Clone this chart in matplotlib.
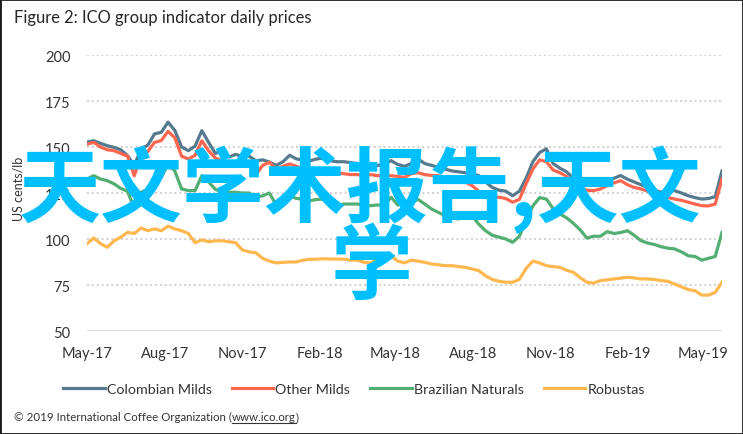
import matplotlib
matplotlib.use('Agg')
import matplotlib.pyplot as plt
import pandas as pd
from matplotlib.patches import Rectangle
from matplotlib.lines import Line2D

# ---------------- data ----------------
dates = pd.date_range('2017-05-01', periods=95, freq='8D')

colombian_milds = [152.7, 153.4, 152.0, 150.7, 149.8, 148.5, 145.3, 140.0, 148.9, 151.0,
                   157.1, 158.0, 163.5, 159.0, 150.0, 148.0, 150.5, 158.9, 152.5, 146.5,
                   148.0, 144.5, 146.0, 144.8, 145.0, 142.5, 143.0, 141.8, 140.0, 142.0,
                   145.5, 143.5, 143.0, 142.5, 143.5, 144.0, 142.5, 142.0, 142.0, 141.5,
                   141.0, 140.5, 141.0, 140.0, 140.5, 142.6, 140.5, 139.5, 141.0, 143.5,
                   141.0, 140.0, 139.0, 138.0, 137.0, 136.5, 136.0, 135.0, 134.5, 131.0,
                   128.0, 126.5, 126.0, 123.5, 126.0, 133.0, 142.0, 147.0, 149.0, 141.0,
                   138.5, 136.5, 133.0, 131.0, 129.5, 130.0, 131.0, 132.0, 133.0, 134.5,
                   132.5, 131.0, 129.5, 128.0, 126.5, 125.4, 126.0, 126.3, 125.0, 123.5,
                   122.5, 121.7, 122.0, 123.0, 137.0]

other_milds = [151.5, 152.5, 150.0, 148.5, 148.0, 146.5, 145.0, 134.4, 145.3, 147.5,
               152.5, 153.5, 158.5, 155.0, 145.0, 143.5, 145.5, 153.4, 148.0, 144.0,
               142.5, 140.5, 141.7, 141.5, 140.8, 135.0, 140.0, 141.7, 138.0, 139.5,
               140.8, 139.5, 138.0, 137.1, 136.5, 136.2, 136.2, 136.0, 135.5, 135.0,
               135.0, 134.5, 135.0, 134.4, 134.5, 134.4, 134.0, 133.5, 135.5, 136.0,
               135.0, 134.5, 134.4, 133.0, 132.0, 131.5, 131.0, 129.0, 126.0, 124.0,
               122.7, 122.7, 122.0, 120.0, 121.5, 130.0, 138.0, 143.0, 142.0, 137.5,
               136.0, 134.0, 130.0, 128.1, 126.5, 126.3, 127.2, 129.0, 130.5, 131.7,
               129.5, 128.0, 127.2, 126.0, 125.0, 123.5, 122.5, 121.7, 121.0, 120.0,
               119.0, 118.1, 118.0, 119.0, 132.6]

brazilian_naturals = [132.6, 134.4, 132.6, 131.7, 130.0, 127.5, 126.0, 116.5, 125.4, 127.0,
                      130.0, 133.5, 140.8, 137.0, 127.2, 126.3, 126.3, 134.4, 131.0, 127.0,
                      125.4, 125.4, 125.4, 125.0, 125.0, 122.7, 123.5, 125.0, 118.5, 122.5,
                      123.5, 122.0, 121.7, 120.8, 121.5, 121.7, 120.0, 118.1, 119.0, 119.0,
                      119.0, 118.5, 118.1, 118.5, 118.1, 122.7, 118.5, 119.0, 120.0, 121.5,
                      119.0, 116.3, 114.5, 112.7, 111.5, 110.9, 112.0, 112.7, 108.0, 104.5,
                      102.0, 101.0, 100.0, 98.2, 101.5, 110.0, 118.0, 122.5, 121.7, 116.5,
                      113.6, 111.5, 108.5, 105.0, 100.5, 101.5, 101.5, 104.0, 103.0, 103.5,
                      104.5, 102.0, 99.1, 97.8, 97.0, 95.8, 95.0, 94.6, 93.0, 90.9,
                      90.5, 88.5, 89.5, 90.5, 103.6]

robustas = [97.5, 100.5, 97.5, 95.5, 99.0, 101.0, 103.6, 103.0, 106.0, 104.5,
            105.5, 104.5, 107.0, 105.5, 104.5, 103.0, 98.0, 99.5, 98.5, 99.0,
            99.0, 98.5, 98.0, 94.0, 93.0, 92.5, 89.5, 88.0, 87.0, 87.3,
            87.5, 87.5, 88.5, 89.0, 89.0, 89.3, 89.1, 89.1, 89.0, 88.5,
            88.5, 87.3, 87.0, 89.0, 90.0, 90.9, 88.0, 87.0, 88.5, 88.0,
            87.3, 86.4, 86.0, 85.5, 85.5, 85.0, 84.6, 83.7, 82.8, 80.0,
            78.0, 77.0, 76.5, 76.5, 78.0, 84.0, 88.0, 87.0, 85.5, 85.0,
            84.6, 83.0, 81.9, 79.0, 76.5, 76.0, 77.4, 77.8, 78.3, 78.7,
            79.2, 78.8, 78.3, 78.3, 78.0, 77.4, 77.0, 75.5, 74.0, 72.5,
            71.9, 69.5, 69.5, 71.0, 76.5]

series_names = ['Colombian Milds', 'Other Milds', 'Brazilian Naturals', 'Robustas']
series_colors = ['#557A8E', '#FF6650', '#52AE72', '#FFB850']
y_ticks = [50, 75, 100, 125, 150, 175, 200]
x_tick_labels = ['May-17', 'Aug-17', 'Nov-17', 'Feb-18', 'May-18', 'Aug-18', 'Nov-18', 'Feb-19', 'May-19']

title_text = 'Figure 2: ICO group indicator daily prices'
y_label = 'US cents/lb'
footer_a = '\u00a9 2019 International Coffee Organization ('
footer_link = 'www.ico.org'
footer_b = ')'
overlay_line1 = '天文学术报告,天文'
overlay_line2 = '学'

# ---------------- figure ----------------
W, H = 743, 435
plt.rcParams['font.family'] = ['Lato', 'DejaVu Sans']
fig = plt.figure(figsize=(W / 100, H / 100), dpi=100)
fig.patch.set_facecolor('white')

ax = fig.add_axes([87 / W, 1 - 332 / H, (722 - 87) / W, (332 - 56) / H])
all_series = [colombian_milds, other_milds, brazilian_naturals, robustas]
for vals, name, col in zip(all_series, series_names, series_colors):
    ax.plot(dates, vals, color=col, lw=2.3, label=name, solid_joinstyle='round')

ax.set_ylim(50, 200)
ax.set_yticks(y_ticks)
ax.set_xlim(dates[0], dates[-1])
tick_dates = pd.to_datetime(['20' + s.split('-')[1] + '-' + s.split('-')[0] + '-01' for s in x_tick_labels],
                            format='%Y-%b-%d')
ax.set_xticks(tick_dates)
ax.set_xticklabels(x_tick_labels)

for v in y_ticks[1:]:
    ax.axhline(v, color='#D0D0D0', lw=1.4, ls=(0, (1, 1.5)), zorder=0)
ax.axhline(50, color='#D9D9D9', lw=1.5, zorder=0.5)
for s in ax.spines.values():
    s.set_visible(False)
ax.tick_params(axis='both', length=0, labelsize=10.5, colors='#333333')
ax.tick_params(axis='y', pad=12)
ax.tick_params(axis='x', pad=11)
ax.set_ylabel(y_label, fontsize=9, color='#333333')
ax.yaxis.set_label_coords(-0.098, 0.52)

fig.text(14 / W, 1 - 18 / H, title_text, fontsize=11.9, color='#262626', va='center', ha='left')

handles = [Line2D([0], [0], color=c, lw=2.3) for c in series_colors]
fig.legend(handles, series_names, loc='center', bbox_to_anchor=(354 / W, 1 - 390 / H), ncol=4,
           frameon=False, fontsize=10.3, handlelength=2.9, handletextpad=0.15, columnspacing=1.4,
           labelcolor='#333333')

# footer with underlined link
fig.canvas.draw()
renderer = fig.canvas.get_renderer()
fy = 1 - 421 / H
t1 = fig.text(14 / W, fy, footer_a, fontsize=8.3, color='#333333', va='baseline', ha='left')
bb1 = t1.get_window_extent(renderer)
t2 = fig.text(bb1.x1 / W, fy, footer_link, fontsize=8.3, color='#333333', va='baseline', ha='left')
bb2 = t2.get_window_extent(renderer)
t3 = fig.text(bb2.x1 / W, fy, footer_b, fontsize=8.3, color='#333333', va='baseline', ha='left')
uy = fy - 2.5 / H
fig.add_artist(Line2D([bb2.x0 / W, bb2.x1 / W], [uy, uy], color='#333333', lw=0.8))

# overlay text
cjk = ['Noto Sans CJK SC', 'DejaVu Sans']
fig.text(360 / W, 1 - 190 / H, overlay_line1, fontsize=59, color='#00BFFF', family=cjk,
         weight='bold', ha='center', va='center', zorder=10)
fig.text(372 / W, 1 - 269 / H, overlay_line2, fontsize=59, color='#00BFFF', family=cjk,
         weight='bold', ha='center', va='center', zorder=10)

# border
fig.add_artist(Rectangle((0, 0), 1, 1, transform=fig.transFigure, fill=False, ec='#1a1a1a', lw=2))

fig.savefig('out.png', dpi=100, facecolor='white')
